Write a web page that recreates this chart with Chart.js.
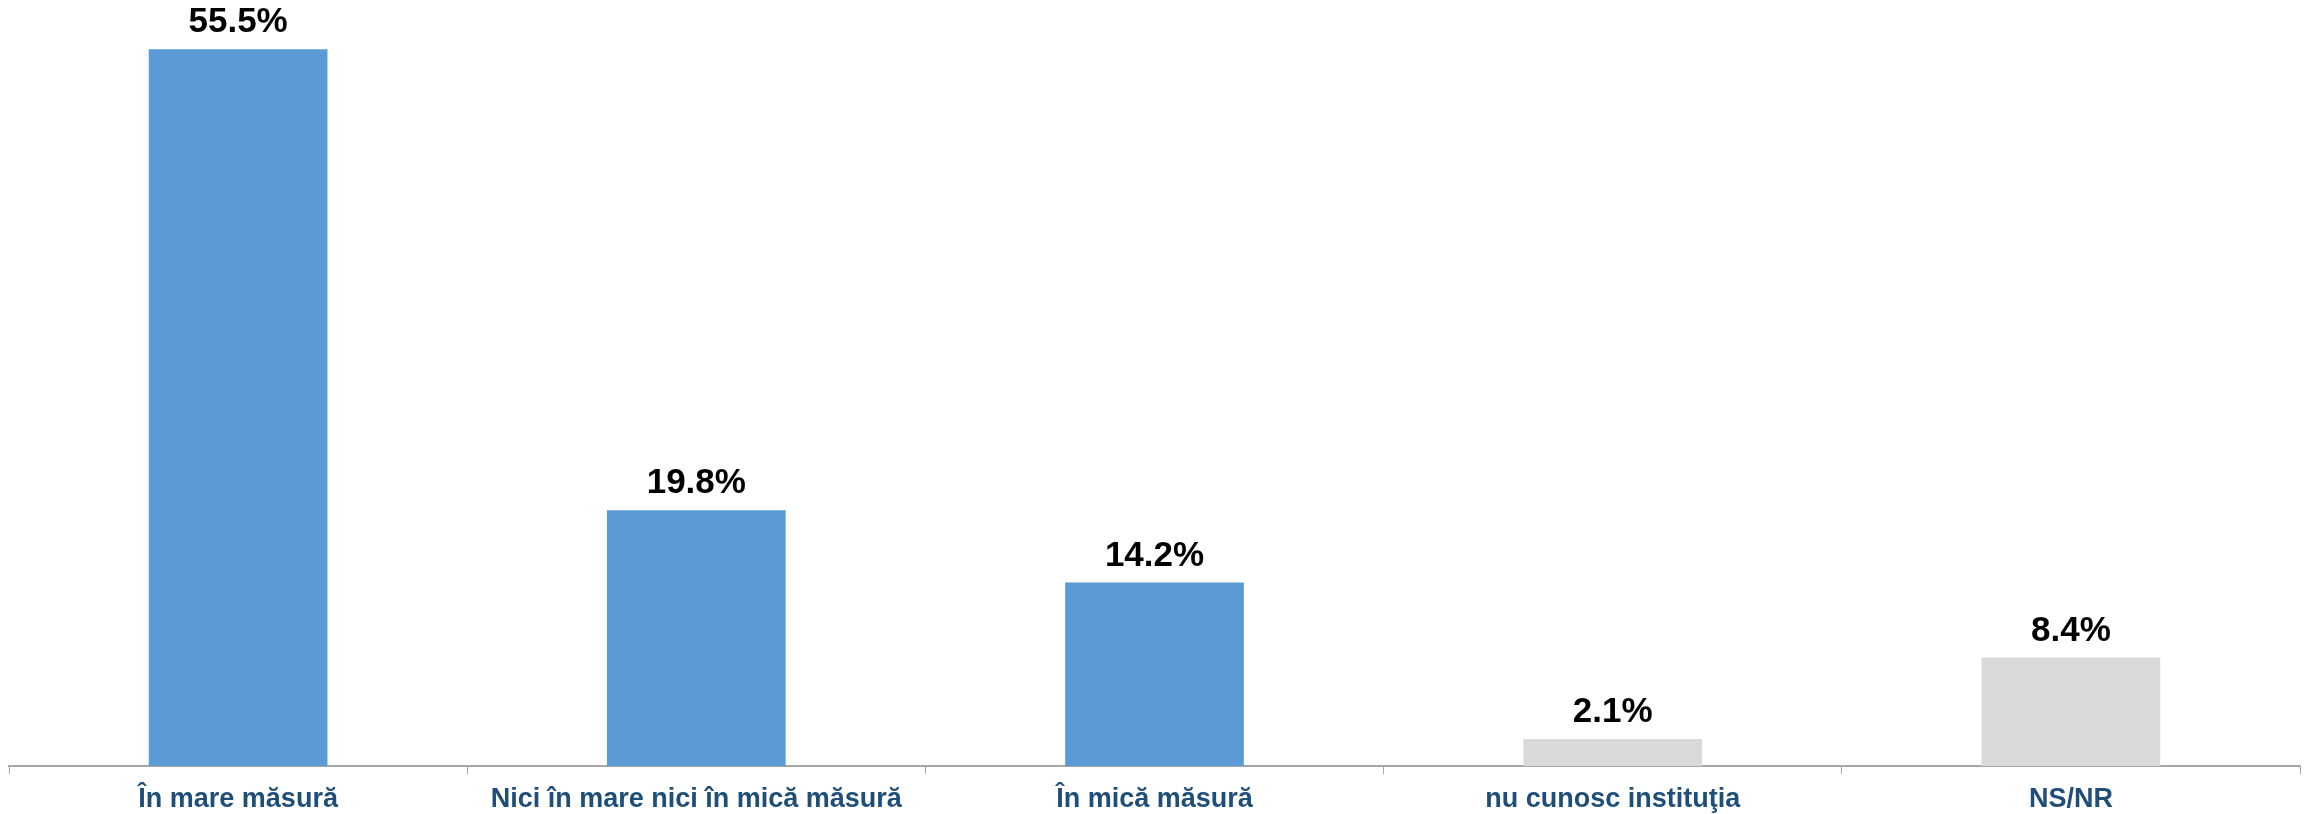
<!DOCTYPE html>
<html lang="ro">
<head>
    <meta charset="UTF-8">
    <title>Grafic</title>
    <script src="https://cdn.jsdelivr.net/npm/chart.js"></script>
    <style>
        html, body { margin: 0; padding: 0; background: #fff; }
        #wrap { position: relative; width: 2305px; height: 814px; }
    </style>
</head>
<body>
    <div id="wrap">
        <canvas id="myChart" width="2305" height="814"></canvas>
    </div>
<script>

    const categorii = ['În mare măsură', 'Nici în mare nici în mică măsură', 'În mică măsură', 'nu cunosc instituţia', 'NS/NR'];
    const procente = [55.5, 19.8, 14.2, 2.1, 8.4];
    const culori = ['#5B9BD5', '#5B9BD5', '#5B9BD5', '#D9D9D9', '#D9D9D9'];

    // etichete cu valoarea deasupra fiecarei bare
    const eticheteValori = {
        id: 'eticheteValori',
        afterDatasetsDraw(chart) {
            const ctx = chart.ctx;
            const meta = chart.getDatasetMeta(0);
            ctx.save();
            ctx.font = 'bold 35px "Liberation Sans", Arial, sans-serif';
            ctx.fillStyle = '#000';
            ctx.textAlign = 'center';
            ctx.textBaseline = 'alphabetic';
            meta.data.forEach((bar, i) => {
                ctx.fillText(procente[i].toFixed(1) + '%', bar.x, bar.y - 17);
            });
            ctx.restore();
        }
    };

    const data = {
        labels: categorii,
        datasets: [{
            data: procente,
            backgroundColor: culori,
            borderWidth: 0,
            categoryPercentage: 1,
            barPercentage: 0.39
        }]
    };

    const config = {
        type: 'bar',
        data: data,
        plugins: [eticheteValori],
        options: {
            responsive: false,
            animation: false,
            layout: { padding: { top: 17, left: 9, right: 5, bottom: 0 } },
            plugins: {
                legend: { display: false },
                tooltip: { enabled: false }
            },
            scales: {
                x: {
                    offset: true,
                    afterFit(scale) { scale.height = 48; },
                    border: { display: true, color: '#A6A6A6', width: 2 },
                    grid: {
                        offset: true,
                        drawOnChartArea: false,
                        drawTicks: true,
                        tickLength: 8,
                        color: '#A6A6A6',
                        lineWidth: 1
                    },
                    ticks: {
                        color: '#1F4E79',
                        padding: 12,
                        maxRotation: 0,
                        autoSkip: false,
                        font: { family: '"Liberation Sans", Arial, sans-serif', size: 27, weight: 'bold', lineHeight: 1 }
                    }
                },
                y: {
                    display: false,
                    min: 0,
                    max: 58
                }
            }
        }
    };

    const myChart = new Chart(document.getElementById('myChart'), config);

</script>
</body>
</html>
